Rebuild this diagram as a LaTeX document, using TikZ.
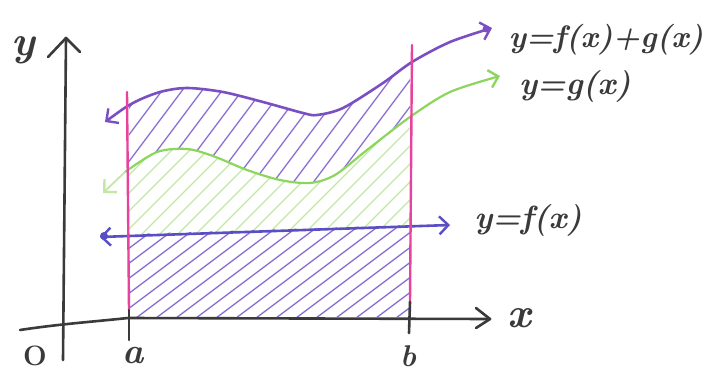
\documentclass[tikz,border=0pt]{standalone}
\usepackage{fontspec}
\usetikzlibrary{arrows.meta}
\definecolor{fgc}{HTML}{7A4FC4}
\definecolor{fc}{HTML}{5A4EC4}
\definecolor{gc}{HTML}{8DD65E}
\definecolor{gh}{HTML}{C2E8A6}
\definecolor{ph}{HTML}{8C6FD2}
\definecolor{mag}{HTML}{E6429E}
\definecolor{ink}{HTML}{3A3A3A}
\begin{document}
\begin{tikzpicture}[x=1pt,y=-1pt,
  curve/.style={line width=2.6pt, line cap=round, line join=round},
  hatch/.style={line width=1.3pt, line cap=round},
  axis/.style={ink, line width=2.6pt, line cap=round, line join=round},
  barb/.style={-{Straight Barb[length=9pt,width=18pt,line width=2.4pt]}},
  barbs/.style={{Straight Barb[length=9pt,width=18pt,line width=2.4pt]}-{Straight Barb[length=9pt,width=18pt,line width=2.4pt]}},
  lbl/.style={text=ink, inner sep=0pt}]
\useasboundingbox (0,0) rectangle (709,375);
\fill[white] (0,0) rectangle (709,375);

% ---- hatching: top region between f+g and g
\begin{scope}
  \clip (129,0) rectangle (410,340);
  \clip plot[smooth] coordinates {(105,122) (133,103) (160,92) (187,88) (223,92) (263,102) (303,113) (317,115) (343,108) (383,83) (412,62) (450,42) (492,28)}
     -- plot[smooth] coordinates {(500,76) (450,92) (410,117) (367,150) (335,175) (310,183) (280,180) (247,170) (213,156) (187,149) (157,152) (125,172) (103,193)} -- cycle;
  \foreach \i in {40,60,...,440} \draw[ph, hatch] (\i,200) -- ++(120,-160);
\end{scope}
% ---- hatching: middle region between g and f
\begin{scope}
  \clip (129,0) rectangle (410,340);
  \clip plot[smooth] coordinates {(103,193) (125,172) (157,152) (187,149) (213,156) (247,170) (280,180) (310,183) (335,175) (367,150) (410,117) (450,92) (500,76)}
     -- (448,225) -- (100,237) -- cycle;
  \foreach \i in {-80,-62,...,440} \draw[gh, hatch] (\i,240) -- ++(200,-200);
\end{scope}
% ---- hatching: bottom region between f and x-axis
\begin{scope}
  \clip (129,234) -- (410,225) -- (410,317) -- (129,317) -- cycle;
  \foreach \i in {-40,-20,...,420} \draw[ph!90!fc, hatch] (\i,330) -- ++(180,-135);
\end{scope}

% ---- axes
\coordinate (xs) at (20,330);
\coordinate (xa) at (128,318);
\coordinate (xe) at (490,319);
\draw[axis] (xs) .. controls (60,324) and (90,322) .. (xa) -- (xe);
\draw[axis] (xe) ++(-14,-11) -- (xe) -- ++(-14,9);
\coordinate (ys) at (63,360);
\coordinate (ye) at (66,38);
\draw[axis] (ys) -- (ye);
\draw[axis] (48,57) -- (ye) -- (80,52);

% ---- curves
\draw[fgc, curve, barbs] plot[smooth] coordinates {(105,122) (133,103) (160,92) (187,88) (223,92) (263,102) (303,113) (317,115) (343,108) (383,83) (412,62) (450,42) (492,28)};
\fill[fgc] (486,29) circle (3.5pt);
\draw[gc, curve, line width=2.2pt, barb] plot[smooth] coordinates {(125,172) (157,152) (187,149) (213,156) (247,170) (280,180) (310,183) (335,175) (367,150) (410,117) (450,92) (500,76)};
\draw[gh, curve, line width=1.8pt, barb] (125,172) -- (103,193);
\coordinate (fl) at (100,237);
\coordinate (fr) at (450,225);
\draw[fc, curve, barbs] (fl) -- (fr);
\fill[fc] (104,236) circle (4pt);

% ---- a, b verticals
\coordinate (at) at (127,92);
\coordinate (ab) at (129,310);
\coordinate (bt) at (412,45);
\coordinate (bb) at (410,302);
\draw[mag, line width=2.4pt, line cap=round] (at) -- (ab);
\draw[mag, line width=2.4pt, line cap=round] (bt) -- (bb);
\draw[axis] (ab) -- (129,340);
\draw[axis] (bb) -- (409,333);

% ---- labels
\node[lbl, font=\fontsize{31}{34}\selectfont\bfseries\itshape] (lfg) at (606,40) {y=f(x)+g(x)};
\node[lbl, font=\fontsize{32}{36}\selectfont\bfseries\itshape] (lg) at (575,86) {y=g(x)};
\node[lbl, font=\fontsize{32}{36}\selectfont\bfseries\itshape] (lf) at (528,220) {y=f(x)};
\node[lbl, font=\fontsize{42}{46}\selectfont\bfseries\itshape] (ly) at (23,50) {y};
\node[lbl, font=\fontsize{42}{46}\selectfont\bfseries\itshape] (lx) at (519,318) {x};
\node[lbl, font=\fontsize{28}{32}\selectfont\bfseries] (lo) at (35,356) {O};
\node[lbl, font=\fontsize{36}{40}\selectfont\bfseries\itshape] (la) at (133,356) {a};
\node[lbl, font=\fontsize{30}{34}\selectfont\bfseries\itshape] (lb) at (408,356) {b};
\end{tikzpicture}
\end{document}
